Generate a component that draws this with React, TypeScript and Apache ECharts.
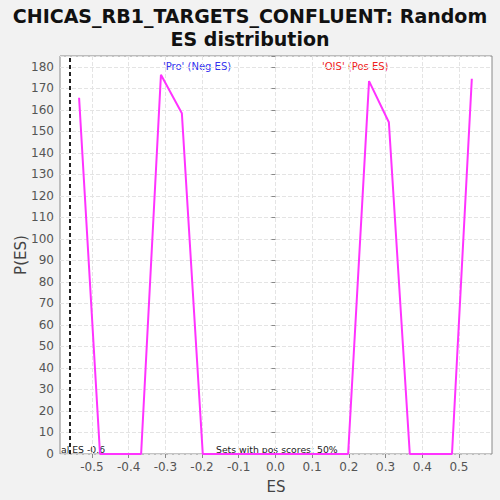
import React, { useEffect, useRef } from "react";
import * as echarts from "echarts";

const esValues = [-0.535, -0.478, -0.366, -0.312, -0.255, -0.198, 0.198, 0.255, 0.309, 0.366, 0.481, 0.535];
const pValues = [165.6, 0, 0, 176.3, 158.4, 0, 0, 173.3, 154.2, 0, 0, 174.4];
const xTicks = [-0.5, -0.4, -0.3, -0.2, -0.1, 0.0, 0.1, 0.2, 0.3, 0.4, 0.5];
const actualES = -0.565;

export default function App() {
  const ref = useRef<HTMLDivElement>(null);
  useEffect(() => {
    const chart = echarts.init(ref.current!, null, { renderer: "svg" });
    const font = "DejaVu Sans";
    chart.setOption({
      animation: false,
      backgroundColor: "#f2f2f2",
      title: {
        text: "CHICAS_RB1_TARGETS_CONFLUENT: Random\nES distribution",
        left: "center",
        top: -1,
        textStyle: { fontFamily: font, fontWeight: "bold", fontSize: 19, color: "#111", lineHeight: 23 },
      },
      grid: {
        left: 60, right: 8, top: 56, bottom: 46,
        outerBoundsMode: "none",
        containLabel: false,
        show: true, backgroundColor: "#fff", borderColor: "#888", borderWidth: 1,
      },
      xAxis: {
        type: "value",
        min: -0.587,
        max: 0.59,
        name: "ES",
        nameLocation: "middle",
        nameGap: 25,
        nameMoveOverlap: false,
        nameTextStyle: { fontFamily: font, fontSize: 15, color: "#444" },
        axisLine: { show: false },
        axisTick: { show: true, customValues: xTicks, length: 4, lineStyle: { color: "#888" } },
        axisLabel: {
          customValues: xTicks,
          fontFamily: font,
          fontSize: 12,
          color: "#555",
          margin: 7,
          formatter: (v: number) => v.toFixed(1),
        },
        splitLine: { show: true, lineStyle: { type: "dashed", color: "#e4e4e4" } },
      },
      yAxis: {
        type: "value",
        min: 0,
        max: 185,
        interval: 10,
        name: "P(ES)",
        nameLocation: "middle",
        nameGap: 32,
        nameMoveOverlap: false,
        nameTextStyle: { fontFamily: font, fontSize: 15, color: "#444" },
        axisLine: { show: false },
        axisTick: { show: true, length: 4, lineStyle: { color: "#888" } },
        axisLabel: {
          fontFamily: font,
          fontSize: 12,
          color: "#555",
          margin: 6,
          formatter: (v: number) => (v % 10 === 0 && v <= 180 ? String(v) : ""),
        },
        splitLine: { show: true, lineStyle: { type: "dashed", color: "#e4e4e4" } },
      },
      series: [
        {
          type: "line",
          data: esValues.map((x, i) => [x, pValues[i]]),
          showSymbol: false,
          lineStyle: { color: "#ff33ff", width: 2 },
          itemStyle: { color: "#ff33ff" },
          markLine: {
            silent: true,
            symbol: "none",
            label: { show: false },
            lineStyle: { color: "#222", type: [4, 3], width: 2 },
            data: [{ xAxis: actualES }],
          },
          z: 3,
        },
      ],
      graphic: [
        { type: "text", left: 163, top: 61, style: { text: "'Pro' (Neg ES)", fill: "#3333ee", font: `10px ${font}` } },
        { type: "text", left: 322, top: 61, style: { text: "'OIS' (Pos ES)", fill: "#ee2222", font: `10px ${font}` } },
        { type: "text", left: 216, top: 445, style: { text: "Sets with pos scores: 50%", fill: "#222", font: `9.3px ${font}` } },
        { type: "text", left: 61, top: 445, style: { text: "al ES -0.6", fill: "#222", font: `9.3px ${font}` } },
      ],
    });
    return () => chart.dispose();
  }, []);
  return <div ref={ref} style={{ width: 500, height: 500, position: "absolute", left: 0, top: 0 }} />;
}
